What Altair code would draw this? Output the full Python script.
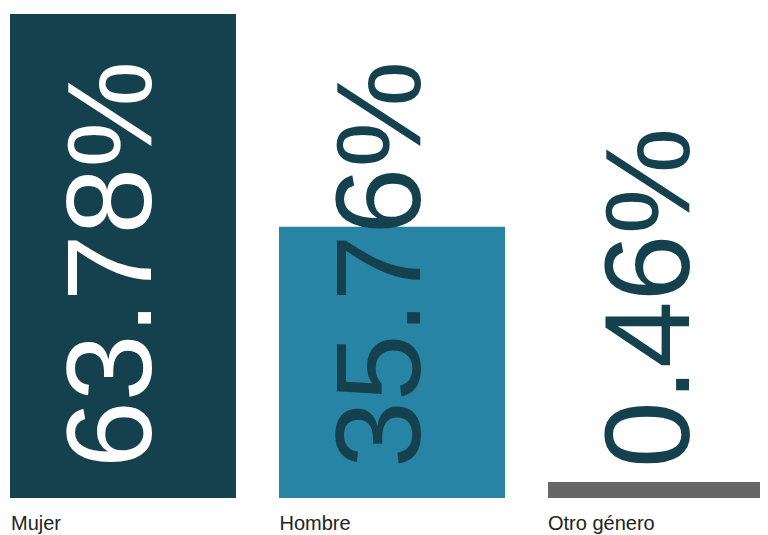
import altair as alt
import pandas as pd

categories = ["Mujer", "Hombre", "Otro género"]
values = [63.78, 35.76, 0.46]
value_labels = ["63.78%", "35.76%", "0.46%"]
bar_colors = ["#15414f", "#2784a4", "#666666"]
label_colors = ["#ffffff", "#15414f", "#15414f"]
MIN_VISIBLE = 2.1  # minimum drawn bar height (in value units) so tiny shares stay visible

df = pd.DataFrame({
    "cat": categories,
    "value": values,
    "label": value_labels,
    "color": bar_colors,
    "tcolor": label_colors,
})

base = alt.Chart(df)

y_scale = alt.Scale(nice=False, zero=True)

bars = base.transform_calculate(
    shown=f"max(datum.value, {MIN_VISIBLE})"
).mark_bar(clip=True).encode(
    x=alt.X("cat:N", sort=categories, axis=None,
            scale=alt.Scale(type="band", range=[2, 766], paddingInner=0.16, paddingOuter=0)),
    y=alt.Y("shown:Q", axis=None, scale=y_scale),
    color=alt.Color("color:N", scale=None),
)

# value labels: one point per bar centre
value_text = base.mark_text(
    angle=270, align="left", baseline="alphabetic",
    fontSize=120, font="Liberation Sans", dx=30, dy=28,
).encode(
    x=alt.X("cat:N", sort=categories, axis=None,
            scale=alt.Scale(type="point", range=[115, 653], padding=0)),
    y=alt.Y(datum=0, scale=y_scale),
    text="label:N",
    color=alt.Color("tcolor:N", scale=None),
)

# category labels: one point per bar's left edge
cat_text = base.mark_text(
    align="left", baseline="alphabetic", fontSize=20,
    font="Liberation Sans", color="#222222", dy=32,
).encode(
    x=alt.X("cat:N", sort=categories, axis=None,
            scale=alt.Scale(type="point", range=[3, 540], padding=0)),
    y=alt.Y(datum=0, scale=y_scale),
    text="cat:N",
)

chart = alt.layer(bars, value_text, cat_text).resolve_scale(
    x="independent"
).properties(
    width=752, height=484,
    autosize=alt.AutoSizeParams(type="none"),
    padding={"left": 0, "top": 6, "right": 0, "bottom": 36},
).configure_view(stroke=None)

chart.save("out.html", embed_options={"renderer": "svg", "actions": False})
